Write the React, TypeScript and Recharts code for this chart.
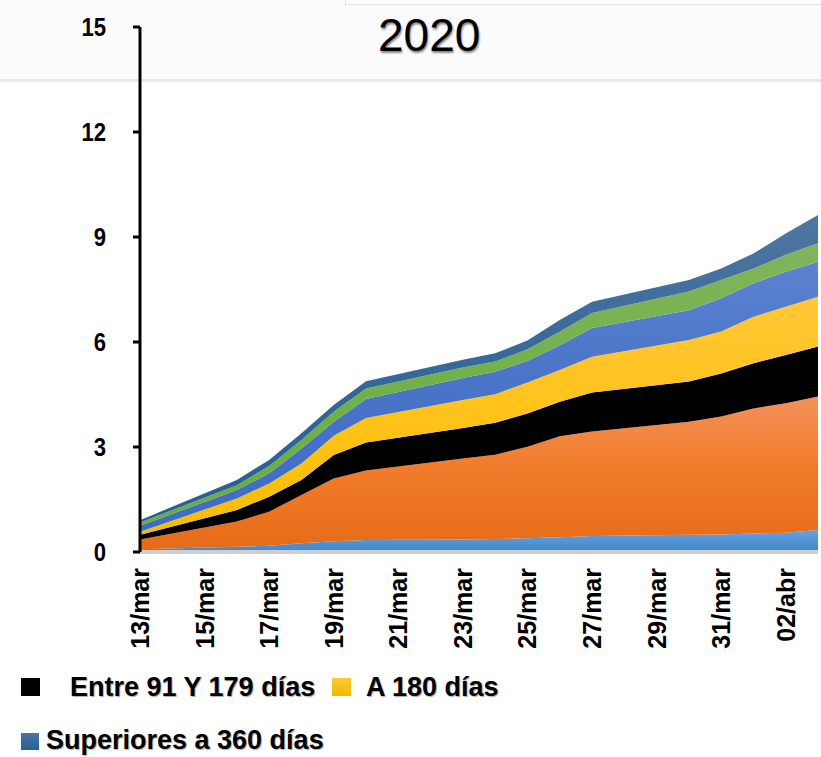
import React from 'react';
import { AreaChart, Area, XAxis, YAxis } from 'recharts';

// business days in the series, as offsets from 13/mar
const dates = ['13/mar', '16/mar', '17/mar', '18/mar', '19/mar', '20/mar', '23/mar', '24/mar', '25/mar', '26/mar', '27/mar', '30/mar', '31/mar', '01/abr', '02/abr', '03/abr'];
const dayIndex = [0, 3, 4, 5, 6, 7, 10, 11, 12, 13, 14, 17, 18, 19, 20, 21];

const xTickDays = [0, 2, 4, 6, 8, 10, 12, 14, 16, 18, 20];
const xTickLabels = ['13/mar', '15/mar', '17/mar', '19/mar', '21/mar', '23/mar', '25/mar', '27/mar', '29/mar', '31/mar', '02/abr'];
const yTicks = [0, 3, 6, 9, 12, 15];

const hasta30 = [0.08, 0.15, 0.18, 0.25, 0.31, 0.34, 0.36, 0.37, 0.39, 0.42, 0.46, 0.49, 0.5, 0.53, 0.55, 0.63];
const entre31y90 = [0.28, 0.72, 0.97, 1.38, 1.79, 1.99, 2.31, 2.41, 2.62, 2.89, 2.98, 3.23, 3.37, 3.57, 3.7, 3.81];
const entre91y179 = [0.13, 0.33, 0.43, 0.43, 0.67, 0.8, 0.87, 0.91, 0.95, 0.98, 1.12, 1.15, 1.23, 1.29, 1.38, 1.43];
const a180 = [0.09, 0.33, 0.38, 0.47, 0.55, 0.7, 0.8, 0.82, 0.88, 0.91, 1.02, 1.19, 1.2, 1.33, 1.38, 1.42];
const entre181y359 = [0.17, 0.24, 0.29, 0.43, 0.4, 0.54, 0.63, 0.64, 0.62, 0.71, 0.82, 0.85, 0.95, 0.96, 1.0, 1.0];
const a360 = [0.09, 0.14, 0.21, 0.24, 0.29, 0.3, 0.3, 0.29, 0.33, 0.38, 0.43, 0.53, 0.52, 0.42, 0.48, 0.53];
const sup360 = [0.07, 0.15, 0.17, 0.19, 0.19, 0.21, 0.22, 0.24, 0.25, 0.34, 0.32, 0.33, 0.33, 0.43, 0.61, 0.81];

const data = dates.map((d, i) => ({
  fecha: d,
  day: dayIndex[i],
  hasta30: hasta30[i],
  entre31y90: entre31y90[i],
  entre91y179: entre91y179[i],
  a180: a180[i],
  entre181y359: entre181y359[i],
  a360: a360[i],
  sup360: sup360[i],
}));

const series = [
  { key: 'hasta30', top: '#63a3df', mid: '#5596d6', bottom: '#4287cb' },
  { key: 'entre31y90', top: '#f2915a', mid: '#f27c2c', bottom: '#e56b17' },
  { key: 'entre91y179', top: '#000000', mid: '#000000', bottom: '#000000' },
  { key: 'a180', top: '#ffc838', mid: '#ffc31c', bottom: '#f5bd00' },
  { key: 'entre181y359', top: '#5c82d0', mid: '#4a74c8', bottom: '#3d6bc5' },
  { key: 'a360', top: '#80b55c', mid: '#73b14b', bottom: '#68ad3c' },
  { key: 'sup360', top: '#4f77a1', mid: '#38699a', bottom: '#255f95' },
];

const FONT = "'Liberation Sans', Arial, sans-serif";

const XTick = (props: any) => {
  const { x, y, payload } = props;
  const i = xTickDays.indexOf(payload.value);
  const ty = y + 8;
  return (
    <text
      x={x}
      y={ty}
      transform={`rotate(-90 ${x} ${ty})`}
      textAnchor="end"
      dy="0.36em"
      fill="#000"
      fontSize={25}
      fontWeight={700}
      fontFamily={FONT}
    >
      {xTickLabels[i]}
    </text>
  );
};

const YTick = (props: any) => {
  const { x, y, payload } = props;
  return (
    <text
      transform={`translate(${x} ${y}) scale(0.85 1)`}
      textAnchor="end"
      dy="0.36em"
      fill="#000"
      fontSize={26}
      fontWeight={700}
      fontFamily={FONT}
    >
      {payload.value}
    </text>
  );
};

const legendText: React.CSSProperties = {
  position: 'absolute',
  fontFamily: FONT,
  fontWeight: 700,
  fontSize: 27,
  lineHeight: '27px',
  color: '#000',
  whiteSpace: 'nowrap',
  textShadow: '1px 1px 1px #aaa',
};

const App = () => {
  return (
    <div style={{ position: 'relative', width: 821, height: 757, overflow: 'hidden', background: '#fff' }}>
      <style>{'body{margin:0}'}</style>
      <div style={{ position: 'absolute', left: 0, top: 0, width: 821, height: 80, background: '#fbfbfb' }} />
      <div style={{ position: 'absolute', left: 345, top: -3, width: 480, height: 6, border: '1px solid #e2e2e2', background: '#fff' }} />
      <div style={{ position: 'absolute', left: 0, top: 79, width: 821, height: 3, background: '#e9e9e9' }} />

      <div style={{ position: 'absolute', left: 0, top: 0 }}>
        <AreaChart width={821} height={757} data={data} margin={{ top: 27, right: 3, left: 0, bottom: 0 }}>
          <defs>
            {series.map((s) => (
              <linearGradient key={s.key} id={`g-${s.key}`} x1="0" y1="0" x2="0" y2="1">
                <stop offset="0%" stopColor={s.top} />
                <stop offset="45%" stopColor={s.mid} />
                <stop offset="100%" stopColor={s.bottom} />
              </linearGradient>
            ))}
          </defs>
          <XAxis
            dataKey="day"
            type="number"
            domain={[0, 21]}
            ticks={xTickDays}
            interval={0}
            height={205}
            axisLine={{ stroke: '#cfcfcf', strokeWidth: 4 }}
            tickLine={false}
            tick={<XTick />}
          />
          <YAxis
            domain={[0, 15]}
            ticks={yTicks}
            width={140}
            axisLine={{ stroke: '#000', strokeWidth: 3 }}
            tickLine={{ stroke: '#000', strokeWidth: 3 }}
            tickSize={7}
            tickMargin={27}
            tick={<YTick />}
          />
          {series.map((s) => (
            <Area
              key={s.key}
              type="linear"
              dataKey={s.key}
              stackId="1"
              stroke="none"
              fill={`url(#g-${s.key})`}
              fillOpacity={1}
              dot={false}
              activeDot={false}
              isAnimationActive={false}
            />
          ))}
        </AreaChart>
      </div>

      <div
        style={{
          position: 'absolute',
          left: 378,
          top: 12,
          fontFamily: FONT,
          fontSize: 46,
          lineHeight: '46px',
          color: '#000',
          textShadow: '1px 2px 2px #888',
        }}
      >
        2020
      </div>

      <div style={{ position: 'absolute', left: 21, top: 678, width: 19, height: 18, background: '#000' }} />
      <div style={{ ...legendText, left: 70, top: 674 }}>Entre 91 Y 179 días</div>
      <div style={{ position: 'absolute', left: 332, top: 678, width: 19, height: 18, background: 'linear-gradient(#ffc936, #f0b800)' }} />
      <div style={{ ...legendText, left: 366, top: 674 }}>A 180 días</div>
      <div style={{ position: 'absolute', left: 21, top: 733, width: 18, height: 17, background: 'linear-gradient(#4e76a0, #255f95)' }} />
      <div style={{ ...legendText, left: 46, top: 727 }}>Superiores a 360 días</div>
    </div>
  );
};

export default App;
